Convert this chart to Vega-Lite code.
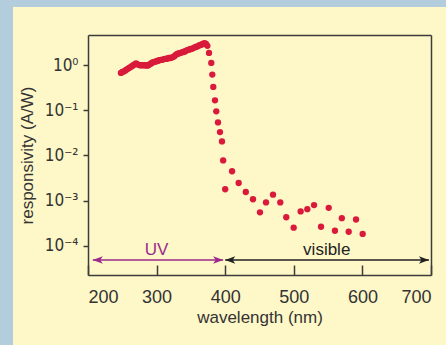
{
  "$schema": "https://vega.github.io/schema/vega-lite/v6.json",
  "background": "#fef7c7",
  "padding": 0,
  "spacing": 0,
  "bounds": "full",
  "config": {
    "view": {"stroke": null},
    "font": "Liberation Sans, sans-serif",
    "concat": {"spacing": 0}
  },
  "datasets": {
    "pts": [
      {"wavelength": 248, "responsivity": 0.676}, {"wavelength": 250, "responsivity": 0.708},
      {"wavelength": 252, "responsivity": 0.724}, {"wavelength": 254, "responsivity": 0.759},
      {"wavelength": 256, "responsivity": 0.794}, {"wavelength": 258, "responsivity": 0.832},
      {"wavelength": 260, "responsivity": 0.871}, {"wavelength": 262, "responsivity": 0.912},
      {"wavelength": 264, "responsivity": 0.955}, {"wavelength": 266, "responsivity": 1.0},
      {"wavelength": 268, "responsivity": 1.047}, {"wavelength": 270, "responsivity": 1.096},
      {"wavelength": 272, "responsivity": 1.047}, {"wavelength": 274, "responsivity": 1.023},
      {"wavelength": 276, "responsivity": 1.0}, {"wavelength": 278, "responsivity": 1.0},
      {"wavelength": 280, "responsivity": 1.0}, {"wavelength": 282, "responsivity": 1.0},
      {"wavelength": 284, "responsivity": 1.0}, {"wavelength": 286, "responsivity": 0.977},
      {"wavelength": 288, "responsivity": 1.0}, {"wavelength": 290, "responsivity": 1.047},
      {"wavelength": 292, "responsivity": 1.096}, {"wavelength": 294, "responsivity": 1.148},
      {"wavelength": 296, "responsivity": 1.175}, {"wavelength": 298, "responsivity": 1.202},
      {"wavelength": 300, "responsivity": 1.23}, {"wavelength": 302, "responsivity": 1.259},
      {"wavelength": 304, "responsivity": 1.288}, {"wavelength": 306, "responsivity": 1.318},
      {"wavelength": 308, "responsivity": 1.318}, {"wavelength": 310, "responsivity": 1.349},
      {"wavelength": 312, "responsivity": 1.38}, {"wavelength": 314, "responsivity": 1.38},
      {"wavelength": 316, "responsivity": 1.413}, {"wavelength": 318, "responsivity": 1.445},
      {"wavelength": 320, "responsivity": 1.445}, {"wavelength": 322, "responsivity": 1.479},
      {"wavelength": 324, "responsivity": 1.514}, {"wavelength": 326, "responsivity": 1.585},
      {"wavelength": 328, "responsivity": 1.698}, {"wavelength": 330, "responsivity": 1.778},
      {"wavelength": 332, "responsivity": 1.82}, {"wavelength": 334, "responsivity": 1.862},
      {"wavelength": 336, "responsivity": 1.905}, {"wavelength": 338, "responsivity": 1.95},
      {"wavelength": 340, "responsivity": 1.995}, {"wavelength": 342, "responsivity": 2.042},
      {"wavelength": 344, "responsivity": 2.138}, {"wavelength": 346, "responsivity": 2.188},
      {"wavelength": 348, "responsivity": 2.239}, {"wavelength": 350, "responsivity": 2.291},
      {"wavelength": 352, "responsivity": 2.344}, {"wavelength": 354, "responsivity": 2.399},
      {"wavelength": 356, "responsivity": 2.512}, {"wavelength": 358, "responsivity": 2.57},
      {"wavelength": 360, "responsivity": 2.63}, {"wavelength": 362, "responsivity": 2.754},
      {"wavelength": 364, "responsivity": 2.818}, {"wavelength": 366, "responsivity": 2.884},
      {"wavelength": 368, "responsivity": 3.02}, {"wavelength": 370, "responsivity": 3.09},
      {"wavelength": 372, "responsivity": 2.951}, {"wavelength": 374, "responsivity": 2.692},
      {"wavelength": 376.4, "responsivity": 1.875}, {"wavelength": 379.7, "responsivity": 1.125},
      {"wavelength": 381.2, "responsivity": 0.621}, {"wavelength": 382.6, "responsivity": 0.33},
      {"wavelength": 385.1, "responsivity": 0.167}, {"wavelength": 387, "responsivity": 0.095},
      {"wavelength": 389.5, "responsivity": 0.0541}, {"wavelength": 392.4, "responsivity": 0.033},
      {"wavelength": 395.3, "responsivity": 0.0205}, {"wavelength": 397, "responsivity": 0.00776},
      {"wavelength": 400, "responsivity": 0.00178}, {"wavelength": 410, "responsivity": 0.00447},
      {"wavelength": 419.6, "responsivity": 0.00245}, {"wavelength": 430, "responsivity": 0.00155},
      {"wavelength": 440.5, "responsivity": 0.00107}, {"wavelength": 450.7, "responsivity": 0.00055},
      {"wavelength": 459.5, "responsivity": 0.000912}, {"wavelength": 469.7, "responsivity": 0.00135},
      {"wavelength": 480.3, "responsivity": 0.000912}, {"wavelength": 489, "responsivity": 0.000427},
      {"wavelength": 499.8, "responsivity": 0.000251}, {"wavelength": 510, "responsivity": 0.000575},
      {"wavelength": 519.7, "responsivity": 0.000646}, {"wavelength": 529.5, "responsivity": 0.000794},
      {"wavelength": 539.7, "responsivity": 0.000263}, {"wavelength": 550.9, "responsivity": 0.000692},
      {"wavelength": 560, "responsivity": 0.000214}, {"wavelength": 570, "responsivity": 0.000407},
      {"wavelength": 580, "responsivity": 0.000204}, {"wavelength": 590.7, "responsivity": 0.00038},
      {"wavelength": 600.4, "responsivity": 0.000182}
    ],
    "arrows": [
      {"wavelength": 207, "wavelength_end": 397, "responsivity": 0.000048, "band": "UV"},
      {"wavelength": 400, "wavelength_end": 697, "responsivity": 0.000048, "band": "visible"}
    ],
    "heads": [
      {"wavelength": 207, "responsivity": 0.000048, "band": "UV", "dir": "left"},
      {"wavelength": 397, "responsivity": 0.000048, "band": "UV", "dir": "right"},
      {"wavelength": 400, "responsivity": 0.000048, "band": "visible", "dir": "left"},
      {"wavelength": 697, "responsivity": 0.000048, "band": "visible", "dir": "right"}
    ],
    "labels": [
      {"wavelength": 300, "responsivity": 0.00008, "band": "UV", "text": "UV"},
      {"wavelength": 548, "responsivity": 0.00008, "band": "visible", "text": "visible"}
    ]
  },
  "vconcat": [
    {
      "width": 446, "height": 7,
      "view": {"fill": "#b4cddd", "stroke": null},
      "data": {"values": [{}]},
      "mark": {"type": "point", "opacity": 0},
      "encoding": {}
    },
    {
      "spacing": 5,
      "hconcat": [
        {
          "width": 13, "height": 338,
          "view": {"fill": "#b4cddd", "stroke": null},
          "data": {"values": [{}]},
          "mark": {"type": "point", "opacity": 0},
          "encoding": {}
        },
        {
          "spacing": 0,
          "vconcat": [
            {
              "width": 10, "height": 28,
              "view": {"stroke": null},
              "data": {"values": [{}]},
              "mark": {"type": "point", "opacity": 0},
              "encoding": {}
            },
            {
              "width": 343, "height": 240,
              "resolve": {"axis": {"x": "independent", "y": "independent"}},
              "layer": [
                {
                  "data": {"name": "pts"},
                  "mark": {"type": "circle", "size": 40, "color": "#d91a3b", "opacity": 1},
                  "encoding": {
                    "x": {
                      "field": "wavelength", "type": "quantitative",
                      "scale": {"domain": [200, 700], "nice": false, "zero": false},
                      "axis": {
                        "values": [200, 300, 400, 500, 600, 700],
                        "tickSize": -10, "tickColor": "#3c3c3c", "tickWidth": 1.5,
                        "domain": true, "domainColor": "#3c3c3c", "domainWidth": 1.5, "grid": false,
                        "labelFontSize": 18, "labelColor": "#333333", "labelPadding": 23,
                        "title": "wavelength (nm)", "titleFontSize": 17, "titleFontWeight": "normal",
                        "titleColor": "#333333", "titlePadding": 3
                      }
                    },
                    "y": {
                      "field": "responsivity", "type": "quantitative",
                      "scale": {"type": "log", "domain": [0.0000224, 4.68], "nice": false},
                      "axis": {
                        "values": [0.0001, 0.001, 0.01, 0.1, 1],
                        "labelExpr": "round(log(datum.value)/LN10) == 0 ? '10⁰' : round(log(datum.value)/LN10) == -1 ? '10⁻¹' : round(log(datum.value)/LN10) == -2 ? '10⁻²' : round(log(datum.value)/LN10) == -3 ? '10⁻³' : '10⁻⁴'",
                        "tickSize": 5, "tickColor": "#3c3c3c", "tickWidth": 1.5,
                        "domain": true, "domainColor": "#3c3c3c", "domainWidth": 1.5, "grid": false,
                        "labelFont": "DejaVu Sans Condensed, DejaVu Sans, sans-serif",
                        "labelFontSize": 17, "labelColor": "#333333", "labelPadding": 5,
                        "title": "responsivity (A/W)", "titleFontSize": 17, "titleFontWeight": "normal",
                        "titleColor": "#333333", "titlePadding": 8
                      }
                    }
                  }
                },
                {
                  "data": {"name": "arrows"},
                  "mark": {"type": "rule", "strokeWidth": 1.5},
                  "encoding": {
                    "x": {"field": "wavelength", "type": "quantitative",
                      "axis": {"orient": "top", "labels": false, "ticks": false, "grid": false, "title": null, "domain": true, "domainColor": "#3c3c3c", "domainWidth": 1.5}},
                    "x2": {"field": "wavelength_end"},
                    "y": {"field": "responsivity", "type": "quantitative",
                      "axis": {"orient": "right", "labels": false, "ticks": false, "grid": false, "title": null, "domain": true, "domainColor": "#3c3c3c", "domainWidth": 1.5}},
                    "color": {"field": "band", "type": "nominal", "scale": {"domain": ["UV", "visible"], "range": ["#9b2a8c", "#222222"]}, "legend": null}
                  }
                },
                {
                  "data": {"name": "heads"},
                  "mark": {"type": "point", "filled": true, "size": 100, "opacity": 1, "strokeWidth": 0},
                  "encoding": {
                    "x": {"field": "wavelength", "type": "quantitative", "axis": null},
                    "y": {"field": "responsivity", "type": "quantitative", "axis": null},
                    "shape": {"field": "dir", "type": "nominal", "scale": {"domain": ["left", "right"], "range": ["M0,0 L2,-0.75 L1.5,0 L2,0.75 Z", "M0,0 L-2,-0.75 L-1.5,0 L-2,0.75 Z"]}, "legend": null},
                    "color": {"field": "band", "type": "nominal", "scale": {"domain": ["UV", "visible"], "range": ["#9b2a8c", "#222222"]}, "legend": null}
                  }
                },
                {
                  "data": {"name": "labels"},
                  "mark": {"type": "text", "fontSize": 17, "baseline": "middle", "align": "center"},
                  "encoding": {
                    "x": {"field": "wavelength", "type": "quantitative", "axis": null},
                    "y": {"field": "responsivity", "type": "quantitative", "axis": null},
                    "text": {"field": "text"},
                    "color": {"field": "band", "type": "nominal", "scale": {"domain": ["UV", "visible"], "range": ["#9b2a8c", "#222222"]}, "legend": null}
                  }
                }
              ]
            }
          ]
        }
      ]
    }
  ]
}
